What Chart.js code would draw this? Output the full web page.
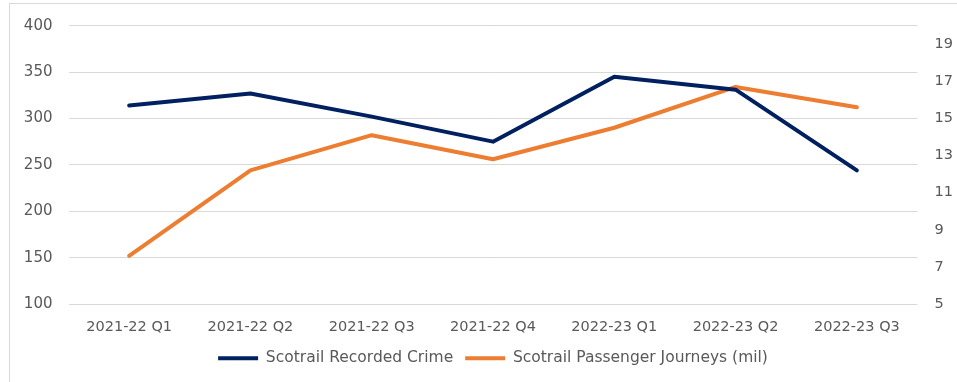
<!DOCTYPE html>
<html>
<head>
<meta charset="utf-8">
<script src="https://cdn.jsdelivr.net/npm/chart.js@4/dist/chart.umd.min.js"></script>
<style>
  html, body { margin: 0; padding: 0; background: #fff; }
  #wrap { position: relative; width: 957px; height: 382px; overflow: hidden; }
  #frame { position: absolute; left: 9px; top: 3px; width: 1000px; height: 500px;
           border-left: 1px solid #d9d9d9; border-top: 1px solid #d9d9d9; pointer-events: none; }
  canvas { position: absolute; left: 0; top: 0; }
</style>
</head>
<body>
<div id="wrap">
  <canvas id="c" width="957" height="382"></canvas>
  <div id="frame"></div>
</div>
<script>
// Quarterly categories
const quarters = ['2021-22 Q1', '2021-22 Q2', '2021-22 Q3', '2021-22 Q4', '2022-23 Q1', '2022-23 Q2', '2022-23 Q3'];
// Recorded crime on Scotrail (left axis)
const recordedCrime = [314, 327, 302, 275, 345, 331, 244];
// Passenger journeys in millions (right axis)
const passengerJourneys = [7.6, 12.2, 14.1, 12.8, 14.5, 16.7, 15.6];
// Right axis tick labels
const journeyTicks = [5, 7, 9, 11, 13, 15, 17, 19];

const NAVY = '#002060';
const ORANGE = '#ED7D31';
const TEXT = '#595959';
const GRID = '#d9d9d9';
const FONT = { family: 'DejaVu Sans', size: 14.5 };
const LEGEND_FONT = { family: 'DejaVu Sans', size: 15.5 };

new Chart(document.getElementById('c'), {
  type: 'line',
  data: {
    labels: quarters,
    datasets: [
      {
        label: 'Scotrail Recorded Crime',
        data: recordedCrime,
        yAxisID: 'y',
        borderColor: NAVY,
        backgroundColor: NAVY,
        borderWidth: 4,
        pointRadius: 0,
        pointHoverRadius: 0,
        tension: 0,
        borderCapStyle: 'round',
        borderJoinStyle: 'round'
      },
      {
        label: 'Scotrail Passenger Journeys (mil)',
        data: passengerJourneys,
        yAxisID: 'y1',
        borderColor: ORANGE,
        backgroundColor: ORANGE,
        borderWidth: 4,
        pointRadius: 0,
        pointHoverRadius: 0,
        tension: 0,
        borderCapStyle: 'round',
        borderJoinStyle: 'round'
      }
    ]
  },
  options: {
    responsive: false,
    animation: false,
    layout: { padding: { left: 0, right: 0, top: 23, bottom: 6 } },
    plugins: {
      tooltip: { enabled: false },
      legend: {
        position: 'bottom',
        fullSize: false,
        labels: {
          color: TEXT,
          font: LEGEND_FONT,
          boxWidth: 40,
          boxHeight: 4,
          padding: 12,
          generateLabels(chart) {
            return Chart.defaults.plugins.legend.labels.generateLabels(chart)
              .map(l => Object.assign(l, { lineWidth: 0 }));
          }
        }
      }
    },
    scales: {
      x: {
        offset: true,
        grid: { display: false },
        border: { display: false },
        ticks: { color: TEXT, font: FONT, padding: 7, maxRotation: 0 },
        afterFit(s) { s.height = 34.5; }
      },
      y: {
        position: 'left',
        min: 100,
        max: 400,
        ticks: { stepSize: 50, color: TEXT, font: { family: 'DejaVu Sans', size: 15 }, padding: 16 },
        grid: { color: GRID, lineWidth: 1, drawTicks: false },
        border: { display: false },
        afterFit(s) { s.width = 68.5; }
      },
      y1: {
        position: 'right',
        min: 5,
        max: 20,
        ticks: { color: TEXT, font: FONT, padding: 17 },
        grid: { display: false, drawTicks: false },
        border: { display: false },
        afterBuildTicks(s) { s.ticks = journeyTicks.map(v => ({ value: v })); },
        afterFit(s) { s.width = 39.5; }
      }
    }
  }
});
</script>
</body>
</html>
